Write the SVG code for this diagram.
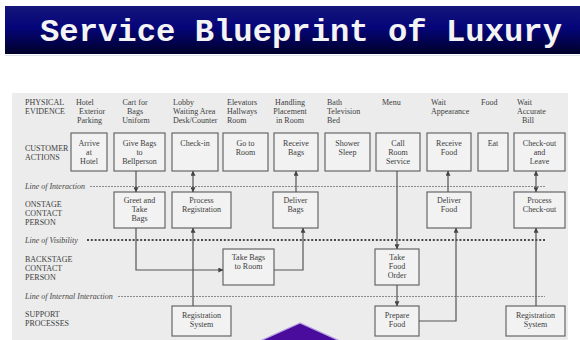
<svg xmlns="http://www.w3.org/2000/svg" width="580" height="340" viewBox="0 0 580 340">
  <defs>
    <linearGradient id="titleGrad" x1="0" y1="0" x2="0" y2="1">
      <stop offset="0" stop-color="#15157a"/>
      <stop offset="0.45" stop-color="#05057a"/>
      <stop offset="1" stop-color="#00002a"/>
    </linearGradient>
    <marker id="arr" viewBox="0 0 8 8" refX="7.5" refY="4" markerWidth="5" markerHeight="5" orient="auto-start-reverse" markerUnits="userSpaceOnUse">
      <path d="M0,0 L8,4 L0,8 Z" fill="#444"/>
    </marker>
    <style>
      .title { font-family: "Liberation Mono", "Courier New", monospace; font-weight: bold; font-size: 32px; fill: #f4f4f4; }
      .t { font-family: "Liberation Serif", "Times New Roman", serif; font-size: 8px; fill: #3c3c3c; }
      .c { text-anchor: middle; }
      .lbl { font-family: "Liberation Serif", "Times New Roman", serif; font-size: 8px; fill: #3c3c3c; }
      .line-lbl { font-family: "Liberation Serif", "Times New Roman", serif; font-size: 8px; font-style: italic; fill: #444; }
      .box rect { fill: #f2f2f2; stroke: #666; stroke-width: 1.2; }
      .conn { fill: none; stroke: #555; stroke-width: 1.2; }
      .thin { stroke: #8a8a8a; stroke-width: 1; stroke-dasharray: 2 1; fill: none; }
      .vis { stroke: #4a4a4a; stroke-width: 2.2; stroke-dasharray: 2 1.8; fill: none; }
    </style>
  </defs>

  <rect width="580" height="340" fill="#ffffff"/>

  <!-- title banner -->
  <g id="title">
    <rect x="5" y="6" width="575" height="48" fill="url(#titleGrad)"/>
    <line x1="5" y1="55.5" x2="580" y2="55.5" stroke="#dfe3f0" stroke-width="1"/>
    <text class="title" x="40" y="41" textLength="522" lengthAdjust="spacingAndGlyphs">Service Blueprint of Luxury</text>
  </g>

  <!-- blueprint panel -->
  <rect x="12" y="93" width="556" height="247" fill="#ececec"/>

  <!-- row labels -->
  <g id="rows">
    <text class="lbl" x="25" y="105">PHYSICAL</text>
    <text class="lbl" x="25" y="114">EVIDENCE</text>
    <text class="lbl" x="25" y="151">CUSTOMER</text>
    <text class="lbl" x="25" y="160">ACTIONS</text>
    <text class="lbl" x="25" y="207">ONSTAGE</text>
    <text class="lbl" x="25" y="216">CONTACT</text>
    <text class="lbl" x="25" y="225">PERSON</text>
    <text class="lbl" x="25" y="262">BACKSTAGE</text>
    <text class="lbl" x="25" y="271">CONTACT</text>
    <text class="lbl" x="25" y="280">PERSON</text>
    <text class="lbl" x="25" y="317">SUPPORT</text>
    <text class="lbl" x="25" y="326">PROCESSES</text>
  </g>

  <!-- physical evidence -->
  <g id="evidence">
    <text class="t" x="76" y="105">Hotel</text>
    <text class="t" x="79" y="114">Exterior</text>
    <text class="t" x="77" y="123">Parking</text>
    <text class="t c" x="135" y="105">Cart for</text>
    <text class="t c" x="135" y="114">Bags</text>
    <text class="t c" x="136" y="123">Uniform</text>
    <text class="t" x="173" y="105">Lobby</text>
    <text class="t" x="173" y="114">Waiting Area</text>
    <text class="t" x="173" y="123">Desk/Counter</text>
    <text class="t" x="227" y="105">Elevators</text>
    <text class="t" x="227" y="114">Hallways</text>
    <text class="t" x="227" y="123">Room</text>
    <text class="t c" x="290" y="105">Handling</text>
    <text class="t c" x="290" y="114">Placement</text>
    <text class="t c" x="290" y="123">in Room</text>
    <text class="t" x="327" y="105">Bath</text>
    <text class="t" x="327" y="114">Television</text>
    <text class="t" x="327" y="123">Bed</text>
    <text class="t" x="382" y="105">Menu</text>
    <text class="t" x="431" y="105">Wait</text>
    <text class="t" x="431" y="114">Appearance</text>
    <text class="t" x="481" y="105">Food</text>
    <text class="t" x="517" y="105">Wait</text>
    <text class="t" x="517" y="114">Accurate</text>
    <text class="t" x="522" y="123">Bill</text>
  </g>

  <!-- lines of interaction / visibility / internal interaction -->
  <g id="zones">
    <text class="line-lbl" x="25" y="189">Line of Interaction</text>
    <line class="thin" x1="90" y1="186.5" x2="545" y2="186.5"/>
    <text class="line-lbl" x="25" y="243">Line of Visibility</text>
    <line class="vis" x1="87" y1="240" x2="545" y2="240"/>
    <text class="line-lbl" x="25" y="299">Line of Internal Interaction</text>
    <line class="thin" x1="118" y1="296.5" x2="545" y2="296.5"/>
  </g>

  <!-- customer actions -->
  <g id="arrive" class="box"><rect x="71" y="133" width="36" height="38"/>
    <text class="t c" x="89" y="146">Arrive</text><text class="t c" x="89" y="155">at</text><text class="t c" x="89" y="164">Hotel</text></g>
  <g id="give-bags" class="box"><rect x="114" y="133" width="51" height="38"/>
    <text class="t c" x="139.5" y="146">Give Bags</text><text class="t c" x="139.5" y="155">to</text><text class="t c" x="139.5" y="164">Bellperson</text></g>
  <g id="check-in" class="box"><rect x="172" y="133" width="46" height="38"/>
    <text class="t c" x="195" y="146">Check-in</text></g>
  <g id="go-to-room" class="box"><rect x="223" y="133" width="45" height="38"/>
    <text class="t c" x="245.5" y="146">Go to</text><text class="t c" x="245.5" y="155">Room</text></g>
  <g id="receive-bags" class="box"><rect x="274" y="133" width="44" height="38"/>
    <text class="t c" x="296" y="146">Receive</text><text class="t c" x="296" y="155">Bags</text></g>
  <g id="shower" class="box"><rect x="325" y="133" width="45" height="38"/>
    <text class="t c" x="347.5" y="146">Shower</text><text class="t c" x="347.5" y="155">Sleep</text></g>
  <g id="call-room-service" class="box"><rect x="376" y="133" width="44" height="38"/>
    <text class="t c" x="398" y="146">Call</text><text class="t c" x="398" y="155">Room</text><text class="t c" x="398" y="164">Service</text></g>
  <g id="receive-food" class="box"><rect x="427" y="133" width="44" height="38"/>
    <text class="t c" x="449" y="146">Receive</text><text class="t c" x="449" y="155">Food</text></g>
  <g id="eat" class="box"><rect x="478" y="133" width="30" height="38"/>
    <text class="t c" x="493" y="146">Eat</text></g>
  <g id="check-out" class="box"><rect x="514" y="133" width="51" height="38"/>
    <text class="t c" x="539.5" y="146">Check-out</text><text class="t c" x="539.5" y="155">and</text><text class="t c" x="539.5" y="164">Leave</text></g>

  <!-- onstage contact person -->
  <g id="greet" class="box"><rect x="114" y="192" width="51" height="36"/>
    <text class="t c" x="139.5" y="203">Greet and</text><text class="t c" x="139.5" y="212">Take</text><text class="t c" x="139.5" y="221">Bags</text></g>
  <g id="process-registration" class="box"><rect x="172" y="192" width="59" height="36"/>
    <text class="t c" x="201.5" y="203">Process</text><text class="t c" x="201.5" y="212">Registration</text></g>
  <g id="deliver-bags" class="box"><rect x="273" y="192" width="45" height="36"/>
    <text class="t c" x="295.5" y="203">Deliver</text><text class="t c" x="295.5" y="212">Bags</text></g>
  <g id="deliver-food" class="box"><rect x="427" y="192" width="44" height="36"/>
    <text class="t c" x="449" y="203">Deliver</text><text class="t c" x="449" y="212">Food</text></g>
  <g id="process-check-out" class="box"><rect x="514" y="192" width="51" height="36"/>
    <text class="t c" x="539.5" y="203">Process</text><text class="t c" x="539.5" y="212">Check-out</text></g>

  <!-- backstage contact person -->
  <g id="take-bags" class="box"><rect x="223" y="249" width="51" height="36"/>
    <text class="t c" x="248.5" y="260">Take Bags</text><text class="t c" x="248.5" y="269">to Room</text></g>
  <g id="take-food-order" class="box"><rect x="375" y="249" width="44" height="36"/>
    <text class="t c" x="397" y="260">Take</text><text class="t c" x="397" y="269">Food</text><text class="t c" x="397" y="278">Order</text></g>

  <!-- support processes -->
  <g id="registration-system" class="box"><rect x="172" y="306" width="59" height="30"/>
    <text class="t c" x="201.5" y="318">Registration</text><text class="t c" x="201.5" y="327">System</text></g>
  <g id="prepare-food" class="box"><rect x="375" y="306" width="44" height="30"/>
    <text class="t c" x="397" y="318">Prepare</text><text class="t c" x="397" y="327">Food</text></g>
  <g id="registration-system-2" class="box"><rect x="506" y="306" width="59" height="30"/>
    <text class="t c" x="535.5" y="318">Registration</text><text class="t c" x="535.5" y="327">System</text></g>

  <!-- connectors -->
  <g id="connectors" class="conn">
    <line x1="136" y1="171" x2="136" y2="192" marker-end="url(#arr)"/>
    <line x1="193" y1="171" x2="193" y2="192" marker-start="url(#arr)" marker-end="url(#arr)"/>
    <line x1="296" y1="192" x2="296" y2="171" marker-end="url(#arr)"/>
    <line x1="397" y1="171" x2="397" y2="249" marker-end="url(#arr)"/>
    <line x1="448" y1="192" x2="448" y2="171" marker-end="url(#arr)"/>
    <line x1="536" y1="171" x2="536" y2="192" marker-start="url(#arr)" marker-end="url(#arr)"/>
    <polyline points="136,228 136,270 223,270" marker-end="url(#arr)"/>
    <polyline points="274,270 303,270 303,228" marker-end="url(#arr)"/>
    <line x1="193" y1="306" x2="193" y2="228" marker-end="url(#arr)"/>
    <line x1="397" y1="285" x2="397" y2="306" marker-end="url(#arr)"/>
    <polyline points="419,321 456,321 456,228" marker-end="url(#arr)"/>
    <line x1="536" y1="306" x2="536" y2="228" marker-end="url(#arr)"/>
  </g>

  <!-- purple roof shape at the bottom -->
  <polygon points="300,323 260,341 340,341" fill="#4a0c9c" stroke="#b7a2e2" stroke-width="1.2"/>
</svg>
